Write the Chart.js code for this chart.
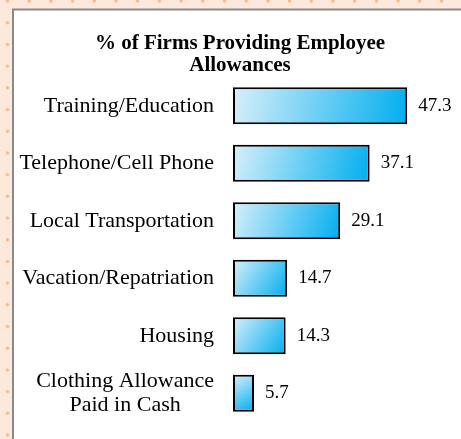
<!DOCTYPE html>
<html>
<head>
<meta charset="utf-8">
<script src="https://cdn.jsdelivr.net/npm/chart.js@4.4.0/dist/chart.umd.min.js"></script>
<style>
  html, body { margin: 0; padding: 0; background: #fde9dc; }
  #wrap { width: 461px; height: 439px; position: relative; }
</style>
</head>
<body>
<div id="wrap"><canvas id="allowances-chart" width="461" height="439"></canvas></div>
<script>
// chart data
var categories = [
    ['Training/Education'],
    ['Telephone/Cell Phone'],
    ['Local Transportation'],
    ['Vacation/Repatriation'],
    ['Housing'],
    ['Clothing Allowance', 'Paid in Cash']
];
var percentValues = [47.3, 37.1, 29.1, 14.7, 14.3, 5.7];
var titleLines = ['% of Firms Providing Employee', 'Allowances'];

var serif = "'Liberation Serif', 'Times New Roman', serif";

// peach dotted background + white panel
var backdrop = {
    id: 'backdrop',
    beforeDraw: function (chart) {
        var c = chart.ctx;
        c.save();
        c.fillStyle = '#fde9dc';
        c.fillRect(0, 0, chart.width, chart.height);
        c.fillStyle = '#f8b98c';
        for (var x = 7.5; x < chart.width; x += 21.7) {
            for (var y = 1; y < chart.height; y += 21.7) {
                c.beginPath();
                c.arc(x, y, 1.7, 0, Math.PI * 2);
                c.fill();
            }
        }
        c.fillStyle = '#ffffff';
        c.fillRect(13, 9.5, chart.width, chart.height);
        c.strokeStyle = '#8a8a8a';
        c.lineWidth = 2;
        c.beginPath();
        c.moveTo(13, chart.height);
        c.lineTo(13, 9.5);
        c.lineTo(chart.width, 9.5);
        c.stroke();
        c.restore();
    }
};

// title, category labels and value labels
var textLayer = {
    id: 'textLayer',
    afterDatasetsDraw: function (chart) {
        var c = chart.ctx;
        var yScale = chart.scales.y;
        var meta = chart.getDatasetMeta(0);
        c.save();
        c.fillStyle = '#000';
        c.textBaseline = 'middle';

        c.font = 'bold 21px ' + serif;
        c.textAlign = 'center';
        c.fillText(titleLines[0], 240, 44);
        c.fillText(titleLines[1], 240, 66);

        c.font = '22px ' + serif;
        categories.forEach(function (lines, i) {
            var yc = yScale.getPixelForValue(i);
            var w = 0;
            lines.forEach(function (l) { w = Math.max(w, c.measureText(l).width); });
            var cx = chart.chartArea.left - 19 - w / 2;
            var lh = 24;
            lines.forEach(function (l, j) {
                c.fillText(l, cx, yc + (j - (lines.length - 1) / 2) * lh);
            });
        });

        c.font = '19px ' + serif;
        c.textAlign = 'left';
        meta.data.forEach(function (bar, i) {
            c.fillText(percentValues[i].toFixed(1), bar.x + 11, bar.y);
        });
        c.restore();
    }
};

function barGradient(context) {
    var chart = context.chart;
    var area = chart.chartArea;
    if (!area) return '#00aeef';
    var xs = chart.scales.x, ys = chart.scales.y;
    var v = percentValues[context.dataIndex];
    var x0 = xs.getPixelForValue(0), x1 = xs.getPixelForValue(v);
    var yc = ys.getPixelForValue(context.dataIndex);
    var g = chart.ctx.createLinearGradient(x0, yc - 18, x1, yc + 18);
    g.addColorStop(0, '#d8effa');
    g.addColorStop(1, '#00aeef');
    return g;
}

var ctx = document.getElementById('allowances-chart').getContext('2d');
var allowChart = new Chart(ctx, {
    type: 'bar',
    data: {
        labels: categories,
        datasets: [{
            data: percentValues,
            backgroundColor: barGradient,
            borderColor: '#000000',
            borderWidth: 2,
            borderSkipped: false,
            barPercentage: 0.8,
            categoryPercentage: 0.8
        }]
    },
    options: {
        indexAxis: 'y',
        responsive: false,
        animation: false,
        layout: {
            padding: { left: 233, top: 77, right: 7, bottom: 17 }
        },
        scales: {
            x: { display: false, min: 0, max: 60 },
            y: { display: false }
        },
        plugins: {
            legend: { display: false },
            tooltip: { enabled: false }
        }
    },
    plugins: [backdrop, textLayer]
});
</script>
</body>
</html>
